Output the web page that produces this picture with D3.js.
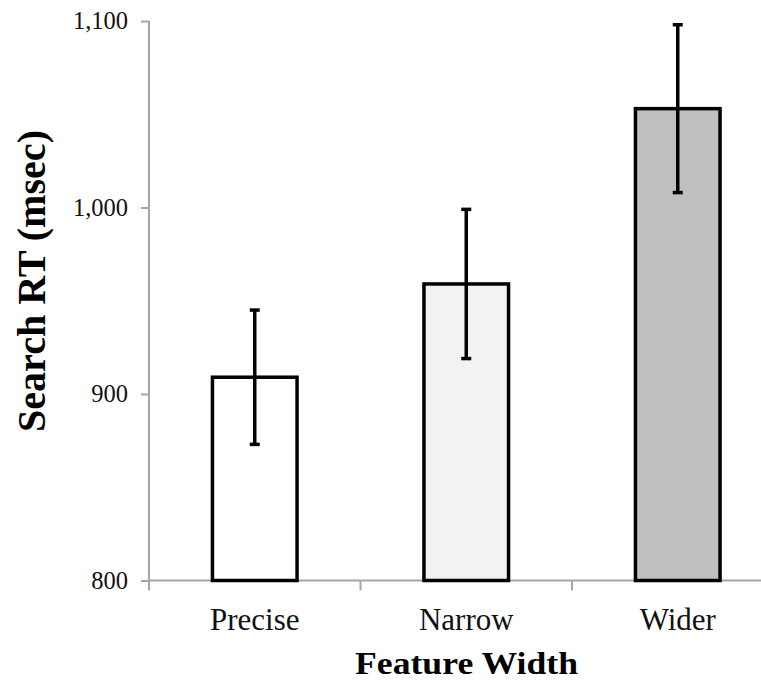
<!DOCTYPE html>
<html>
<head>
<meta charset="utf-8">
<script src="https://cdn.jsdelivr.net/npm/d3@7"></script>
<style>
  body { margin: 0; background: #fff; }
  svg { display: block; font-family: "Liberation Serif", "Times New Roman", serif; }
</style>
</head>
<body>
<svg class="chart"></svg>
<script>
// values
var categories = ["Precise", "Narrow", "Wider"];
var meanRT = [909, 959, 1053];
var errorRT = [36, 40, 45];
var yTicks = [800, 900, 1000, 1100];
var fills = ["#ffffff", "#f2f2f2", "#bfbfbf"];

var width = 761, height = 688;
var svg = d3.select("svg.chart").attr("width", width).attr("height", height);

var y = d3.scaleLinear().domain([800, 1100]).range([580.5, 21]);
var x = d3.scaleBand().domain(categories).range([149, 783.5])
    .paddingInner(0.6).paddingOuter(0.3);
var step = x.step();

// y axis
var yAxis = svg.append("g").attr("transform", "translate(149,0)")
    .call(d3.axisLeft(y).tickValues(yTicks).tickSize(8).tickPadding(13).tickFormat(d3.format(",")));
yAxis.select(".domain").attr("stroke", "#a6a6a6").attr("stroke-width", 2).attr("d", "M0," + y(800) + "V" + y(1100));
yAxis.selectAll(".tick line").attr("stroke", "#a6a6a6").attr("stroke-width", 2);
yAxis.selectAll(".tick text").attr("font-size", 24.5).attr("fill", "#111")
    .attr("font-family", "Liberation Serif");

// x axis line + category boundary ticks
svg.append("line").attr("x1", 149).attr("x2", width).attr("y1", y(800)).attr("y2", y(800))
    .attr("stroke", "#a6a6a6").attr("stroke-width", 2);
svg.selectAll("line.xtick").data(categories).enter().append("line").attr("class", "xtick")
    .attr("x1", function (d) { return x(d) - step * 0.3; })
    .attr("x2", function (d) { return x(d) - step * 0.3; })
    .attr("y1", y(800)).attr("y2", y(800) + 10)
    .attr("stroke", "#a6a6a6").attr("stroke-width", 2);

// bars
svg.selectAll("rect.bar").data(categories).enter().append("rect").attr("class", "bar")
    .attr("x", function (d) { return x(d); })
    .attr("width", x.bandwidth())
    .attr("y", function (d, i) { return y(meanRT[i]); })
    .attr("height", function (d, i) { return y(800) - y(meanRT[i]); })
    .attr("fill", function (d, i) { return fills[i]; })
    .attr("stroke", "#000").attr("stroke-width", 3.5);

// error bars
var eb = svg.selectAll("g.err").data(categories).enter().append("g").attr("class", "err");
eb.append("line")
    .attr("x1", function (d) { return x(d) + x.bandwidth() / 2; })
    .attr("x2", function (d) { return x(d) + x.bandwidth() / 2; })
    .attr("y1", function (d, i) { return y(meanRT[i] + errorRT[i]); })
    .attr("y2", function (d, i) { return y(meanRT[i] - errorRT[i]); })
    .attr("stroke", "#000").attr("stroke-width", 3.5);
[1, -1].forEach(function (s) {
    eb.append("line")
        .attr("x1", function (d) { return x(d) + x.bandwidth() / 2 - 5; })
        .attr("x2", function (d) { return x(d) + x.bandwidth() / 2 + 5; })
        .attr("y1", function (d, i) { return y(meanRT[i] + s * errorRT[i]); })
        .attr("y2", function (d, i) { return y(meanRT[i] + s * errorRT[i]); })
        .attr("stroke", "#000").attr("stroke-width", 3.5);
});

// category labels
svg.selectAll("text.cat").data(categories).enter().append("text").attr("class", "cat")
    .attr("x", function (d) { return x(d) + x.bandwidth() / 2; })
    .attr("y", 630)
    .attr("text-anchor", "middle").attr("font-size", 31).attr("fill", "#111")
    .text(function (d) { return d; });

// axis titles
svg.append("text").attr("x", 466.5).attr("y", 674).attr("text-anchor", "middle")
    .attr("font-size", 31).attr("font-weight", "bold")
    .attr("textLength", 223).attr("lengthAdjust", "spacingAndGlyphs")
    .text("Feature Width");
svg.append("text").attr("transform", "translate(45,281) rotate(-90)").attr("text-anchor", "middle")
    .attr("font-size", 40).attr("font-weight", "bold")
    .attr("textLength", 302).attr("lengthAdjust", "spacingAndGlyphs")
    .text("Search RT (msec)");
</script>
</body>
</html>
